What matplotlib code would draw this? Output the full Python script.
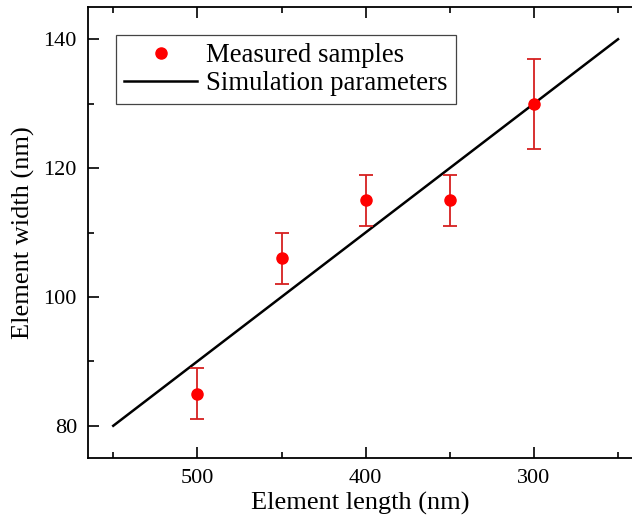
import matplotlib
matplotlib.use('Agg')
import matplotlib.pyplot as plt
from matplotlib.ticker import MultipleLocator
from matplotlib.lines import Line2D

plt.rcParams['font.family'] = ['Liberation Serif', 'DejaVu Serif']

# measured samples
lengths = [500, 450, 400, 350, 300]
widths = [85, 106, 115, 115, 130]
errors = [4, 4, 4, 4, 7]

# simulation line endpoints
sim_lengths = [550, 250]
sim_widths = [80, 140]

fig = plt.figure(figsize=(6.32, 5.21), dpi=100)
ax = fig.add_axes([88 / 632, 63 / 521, 1 - 88 / 632, 451 / 521])

ax.plot(sim_lengths, sim_widths, color='black', lw=1.8, zorder=2)
ax.errorbar(lengths, widths, yerr=errors, fmt='o', color='red', ecolor='#d62020',
            ms=8, elinewidth=1.3, capsize=5, capthick=1.3, zorder=3)

ax.set_xlim(565, 241.7)
ax.set_ylim(75, 145)
ax.xaxis.set_major_locator(MultipleLocator(100))
ax.xaxis.set_minor_locator(MultipleLocator(50))
ax.yaxis.set_major_locator(MultipleLocator(20))
ax.yaxis.set_minor_locator(MultipleLocator(10))
ax.tick_params(which='both', direction='in', top=True, labelsize=16, width=1.2)
ax.tick_params(which='major', length=8, pad=8)
ax.tick_params(which='minor', length=4)
ax.spines['right'].set_visible(False)
for s in ['left', 'bottom', 'top']:
    ax.spines[s].set_linewidth(1.3)

ax.set_xlabel('Element length (nm)', fontsize=19, labelpad=3)
ax.set_ylabel('Element width (nm)', fontsize=19, labelpad=6)

handles = [Line2D([], [], ls='none', marker='o', color='red', ms=8),
           Line2D([], [], color='black', lw=1.8)]
labels = ['Measured samples', 'Simulation parameters']
leg = ax.legend(handles, labels, loc='upper left', bbox_to_anchor=(0.052, 0.937),
                fontsize=19.3, fancybox=False, edgecolor='#444444', framealpha=1,
                handlelength=2.7, handletextpad=0.35, borderpad=0.3, labelspacing=0.1,
                borderaxespad=0)
leg.get_frame().set_linewidth(0.9)

plt.savefig('out.png', dpi=100)
